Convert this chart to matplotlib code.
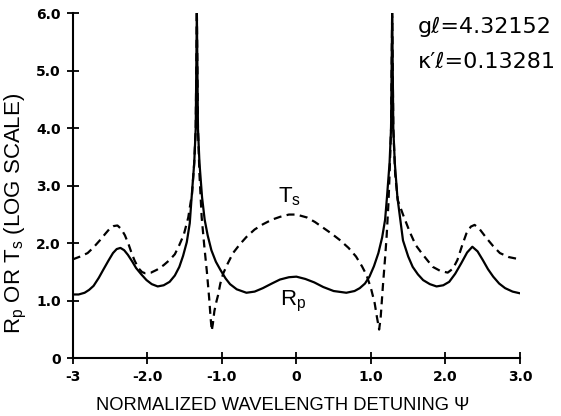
import matplotlib
matplotlib.use("Agg")
from matplotlib import pyplot as plt

# values (log-scale values, plotted linearly)
rp_x = [-3.0, -2.92, -2.84, -2.78, -2.72, -2.65, -2.59, -2.52, -2.46, -2.41, -2.36, -2.31, -2.26,
        -2.20, -2.15, -2.08, -2.01, -1.94, -1.86, -1.78, -1.70, -1.63, -1.57, -1.52, -1.47, -1.43,
        -1.405, -1.37, -1.35, -1.335, -1.32, -1.30, -1.265, -1.23, -1.19, -1.14, -1.08, -1.02,
        -0.95, -0.89, -0.80, -0.67, -0.56, -0.45, -0.33, -0.22, -0.10, 0.0, 0.12, 0.24, 0.36,
        0.50, 0.67, 0.78, 0.85, 0.92, 0.98, 1.04, 1.10, 1.15, 1.19, 1.215, 1.25, 1.27, 1.285,
        1.30, 1.32, 1.355, 1.39, 1.43, 1.50, 1.56, 1.63, 1.70, 1.79, 1.88, 1.97, 2.05, 2.13,
        2.21, 2.29, 2.36, 2.43, 2.50, 2.57, 2.64, 2.72, 2.80, 2.90, 3.0]
rp_y = [1.11, 1.11, 1.14, 1.19, 1.26, 1.40, 1.54, 1.70, 1.83, 1.90, 1.92, 1.88, 1.80,
        1.68, 1.57, 1.46, 1.36, 1.29, 1.25, 1.27, 1.33, 1.44, 1.59, 1.78, 2.02, 2.35,
        2.8, 3.4, 4.0, 6.05, 4.0, 3.4, 2.8, 2.41, 2.14, 1.88, 1.68, 1.54,
        1.39, 1.29, 1.20, 1.14, 1.16, 1.22, 1.30, 1.37, 1.41, 1.42, 1.38, 1.32, 1.24,
        1.17, 1.14, 1.17, 1.22, 1.30, 1.42, 1.60, 1.83, 2.10, 2.41, 2.8, 3.4, 4.0, 6.05,
        4.0, 3.4, 2.8, 2.45, 2.05, 1.77, 1.59, 1.46, 1.36, 1.29, 1.25, 1.27, 1.33, 1.47,
        1.65, 1.84, 1.94, 1.86, 1.71, 1.55, 1.42, 1.30, 1.22, 1.16, 1.13]

ts_x = [-3.0, -2.90, -2.80, -2.72, -2.63, -2.56, -2.50, -2.45, -2.40, -2.35, -2.30, -2.25, -2.21,
        -2.17, -2.12, -2.07, -2.03, -1.95, -1.87, -1.78, -1.70, -1.63, -1.57, -1.51, -1.45,
        -1.42, -1.40, -1.37, -1.35, -1.335, -1.32, -1.30, -1.27, -1.235, -1.20, -1.17, -1.15,
        -1.135, -1.12, -1.10, -1.07, -1.05, -1.02, -0.98, -0.92, -0.85, -0.76, -0.67, -0.56,
        -0.45, -0.33, -0.22, -0.10, 0.0, 0.14, 0.25, 0.36, 0.47, 0.58, 0.70, 0.80, 0.88, 0.94,
        1.00, 1.05, 1.08, 1.11, 1.13, 1.16, 1.19, 1.21, 1.235, 1.25, 1.27, 1.285, 1.30, 1.325,
        1.36, 1.43, 1.52, 1.60, 1.68, 1.76, 1.83, 1.93, 2.03, 2.10, 2.16, 2.22, 2.28, 2.34,
        2.39, 2.45, 2.55, 2.64, 2.73, 2.85, 3.0]
ts_y = [1.72, 1.77, 1.83, 1.93, 2.06, 2.17, 2.26, 2.30, 2.31, 2.25, 2.14, 1.98, 1.83,
        1.70, 1.57, 1.50, 1.48, 1.49, 1.54, 1.62, 1.71, 1.81, 1.97, 2.15, 2.45,
        2.70, 2.85, 3.4, 4.0, 6.05, 4.0, 3.2, 2.45, 1.95, 1.50, 1.05, 0.70,
        0.48, 0.60, 0.82, 1.00, 1.10, 1.30, 1.48, 1.65, 1.83, 1.98, 2.11, 2.24,
        2.33, 2.41, 2.46, 2.50, 2.50, 2.45, 2.37, 2.27, 2.17, 2.06, 1.92, 1.77, 1.60, 1.45,
        1.22, 0.96, 0.72, 0.50, 0.70, 1.25, 1.75, 2.11, 2.70, 3.2, 4.0, 6.05, 4.0, 3.2,
        2.75, 2.50, 2.20, 1.97, 1.83, 1.70, 1.59, 1.52, 1.49, 1.56, 1.71, 1.95, 2.17, 2.29,
        2.32, 2.26, 2.09, 1.95, 1.83, 1.76, 1.72]

x_ticks = [-3, -2, -1, 0, 1, 2, 3]
x_ticklabels = ["-3", "-2.0", "-1.0", "0", "1.0", "2.0", "3.0"]
y_ticks = [0, 1, 2, 3, 4, 5, 6]
y_ticklabels = ["0", "1.0", "2.0", "3.0", "4.0", "5.0", "6.0"]

plt.rcParams["font.family"] = ["Liberation Sans", "DejaVu Sans"]
plt.rcParams["mathtext.fontset"] = "custom"
plt.rcParams["mathtext.rm"] = "Liberation Sans"

fig = plt.figure(figsize=(5.61, 4.16), dpi=100)
ax = fig.add_axes([0.1296, 0.1387, 0.7974, 0.8293])

ax.plot(rp_x, rp_y, color="black", lw=1.6, solid_joinstyle="round")
ax.plot(ts_x, ts_y, color="black", lw=1.6, dashes=(3.6, 2.4))

ax.set_xlim(-3, 3)
ax.set_ylim(0, 6)
for s in ["top", "right"]:
    ax.spines[s].set_visible(False)
ax.spines["left"].set_linewidth(1.5)
ax.spines["bottom"].set_linewidth(1.5)

ax.set_xticks(x_ticks)
ax.set_xticklabels(x_ticklabels, fontsize=10, fontweight="bold", family="DejaVu Sans")
ax.set_yticks(y_ticks)
ax.set_yticklabels(y_ticklabels, fontsize=10, fontweight="bold", family="DejaVu Sans")
ax.tick_params(direction="inout", length=9, width=1.3, pad=4)

ax.set_xlabel("NORMALIZED WAVELENGTH DETUNING Ψ", fontsize=13.2)
ax.xaxis.set_label_coords(0.47, -0.112)
ax.set_ylabel(r"$\mathregular{R_p}$ OR $\mathregular{T_s}$ (LOG SCALE)", fontsize=16)
ax.yaxis.set_label_coords(-0.098, 0.42)

ax.text(-0.09, 2.62, r"$\mathregular{T_s}$", fontsize=16, ha="center", va="bottom")
ax.text(-0.05, 1.2, r"$\mathregular{R_p}$", fontsize=16, ha="center", va="top")

fig.text(0.745, 0.935, "gℓ=4.32152", fontsize=16, ha="left", va="center", family="DejaVu Sans")
fig.text(0.745, 0.85, "κ′ℓ=0.13281", fontsize=16, ha="left", va="center", family="DejaVu Sans")

fig.savefig("out.png", dpi=100)
